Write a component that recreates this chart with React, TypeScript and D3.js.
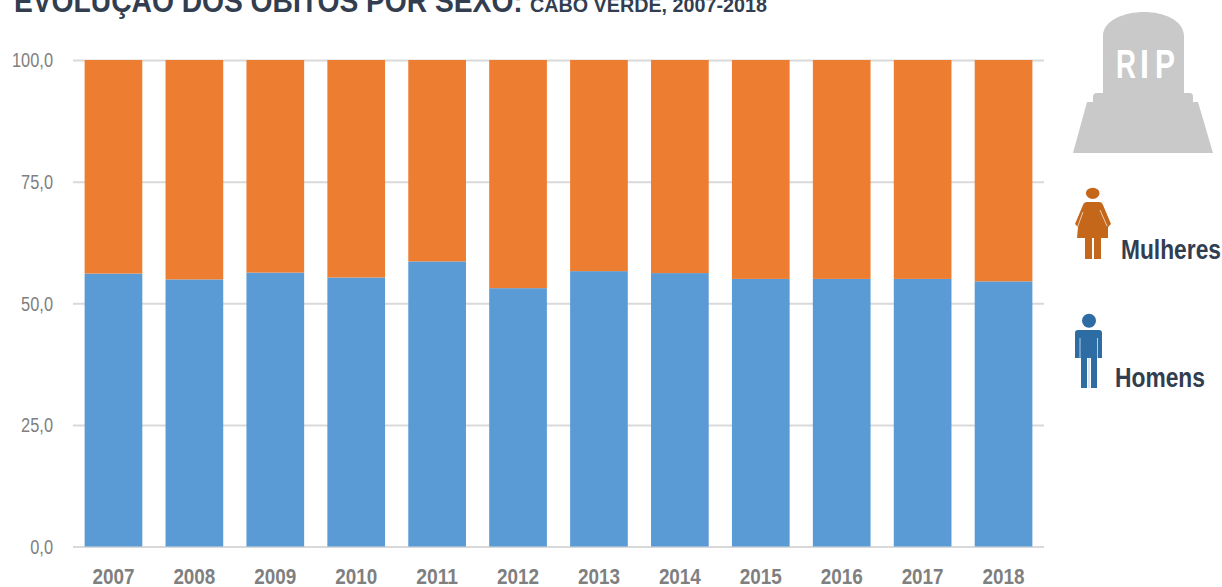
import React, { useEffect, useRef } from "react";
import * as d3 from "d3";

const years = ["2007", "2008", "2009", "2010", "2011", "2012", "2013", "2014", "2015", "2016", "2017", "2018"];
const homens = [56.1, 54.9, 56.3, 55.3, 58.6, 53.1, 56.6, 56.2, 55.0, 55.0, 55.0, 54.5];
const mulheres = homens.map((v) => 100 - v);
const yTicks = [0, 25, 50, 75, 100];

const width = 1222;
const height = 587;
const fontFamily = "'Liberation Sans', Arial, sans-serif";

const App = () => {
  const svgRef = useRef<SVGSVGElement>(null);

  useEffect(() => {
    const svg = d3.select(svgRef.current);
    svg.selectAll("*").remove();

    const x = d3.scaleBand().domain(years).range([73, 1044]).paddingInner(0.287).paddingOuter(0.1435);
    const y = d3.scaleLinear().domain([0, 100]).range([546.5, 60]);

    // Gridlines
    const grid = svg
      .append("g")
      .attr("transform", "translate(73,0)")
      .call(d3.axisLeft(y).tickValues(yTicks).tickSize(-971).tickFormat(() => ""));
    grid.select(".domain").remove();
    grid.selectAll("line").attr("stroke", "#d9d9d9").attr("stroke-width", 2);

    // Stacked bars
    const rows = years.map((year, i) => ({ year, homens: homens[i], mulheres: mulheres[i] }));
    const stack = d3.stack<any>().keys(["homens", "mulheres"])(rows);
    const colors = { homens: "#5b9bd5", mulheres: "#ed7d31" };

    svg
      .append("g")
      .selectAll("g")
      .data(stack)
      .join("g")
      .attr("fill", (d) => colors[d.key])
      .selectAll("rect")
      .data((d) => d)
      .join("rect")
      .attr("x", (d) => x(d.data.year))
      .attr("y", (d) => y(d[1]))
      .attr("width", x.bandwidth())
      .attr("height", (d) => y(d[0]) - y(d[1]));

    // Y axis labels
    const yAxis = svg
      .append("g")
      .attr("transform", "translate(53,0)")
      .call(
        d3
          .axisLeft(y)
          .tickValues(yTicks)
          .tickSize(0)
          .tickPadding(0)
          .tickFormat((d) => d3.format(".1f")(d).replace(".", ","))
      );
    yAxis.select(".domain").remove();
    yAxis
      .selectAll("text")
      .attr("fill", "#7f7f7f")
      .attr("dy", "0.33em")
      .style("font-family", fontFamily)
      .style("font-size", "21px")
      .attr("transform", "scale(0.78,1)");

    // X axis labels
    const xAxis = svg
      .append("g")
      .attr("transform", "translate(0,546.5)")
      .call(d3.axisBottom(x).tickSize(0).tickPadding(0));
    xAxis.select(".domain").remove();
    xAxis
      .selectAll("text")
      .attr("fill", "#7f7f7f")
      .attr("y", 37)
      .attr("dy", 0)
      .attr("textLength", 42)
      .attr("lengthAdjust", "spacingAndGlyphs")
      .style("font-family", fontFamily)
      .style("font-size", "22px")
      .style("font-weight", "bold");

    // Bold text squeezed to the width it has in the picture
    const label = (text: string, lx: number, ly: number, size: number, len: number, fill = "#323e50") => {
      const t = svg
        .append("text")
        .attr("fill", fill)
        .style("font-family", fontFamily)
        .style("font-size", `${size}px`)
        .style("font-weight", "bold")
        .text(text);
      const natural = (t.node() as SVGTextElement).getComputedTextLength();
      t.attr("transform", `translate(${lx},${ly}) scale(${len / natural},1)`);
      return t;
    };

    label("EVOLUÇÃO DOS ÓBITOS POR SEXO:", 14, 12, 31, 509);
    label("CABO VERDE, 2007-2018", 530, 12, 20, 237);
    label("Mulheres", 1121, 259, 27, 100);
    label("Homens", 1115, 387, 27, 90);

    // Tombstone
    const stone = svg.append("g").attr("fill", "#c9c9c9");
    stone
      .append("path")
      .attr(
        "d",
        "M1103,93 L1103,36 C1103,20 1125,12 1144,12 C1163,12 1184,20 1184,36 L1184,93 L1190,93 Q1193,93 1193,97 L1193,102 L1198,102 L1213,153 L1073,153 L1087,102 L1093,102 L1093,97 Q1093,93 1097,93 Z"
      );
    label("R", 1116, 78, 41, 20, "#ffffff");
    label("I", 1140, 78, 41, 9, "#ffffff");
    label("P", 1155, 78, 41, 20, "#ffffff");

    // Woman icon
    const woman = svg.append("g").attr("fill", "#c5671b");
    woman.append("ellipse").attr("cx", 1092.7).attr("cy", 193.3).attr("rx", 6.8).attr("ry", 5.6);
    woman
      .append("path")
      .attr(
        "d",
        "M1087,202 L1099,202 Q1102,202 1103,205 L1111,224 L1108,227 L1108,238 L1101,238 L1101,259 L1094,259 L1094,238 L1092,238 L1092,259 L1085,259 L1085,238 L1077,238 L1078,227 L1075,224 L1083,205 Q1084,202 1087,202 Z"
      );
    woman
      .append("path")
      .attr("d", "M1083,212 L1077.5,227 M1100,210 L1107,226")
      .attr("fill", "none")
      .attr("stroke", "#eccdb2")
      .attr("stroke-width", 1);

    // Man icon
    const man = svg.append("g").attr("fill", "#2e6da4");
    man.append("circle").attr("cx", 1089).attr("cy", 320.7).attr("r", 7);
    man
      .append("path")
      .attr(
        "d",
        "M1078,330 L1099,330 Q1102,330 1102,333 L1102,358 L1097,358 L1097,388 L1091,388 L1091,358 L1087,358 L1087,388 L1081,388 L1081,358 L1075,358 L1075,333 Q1075,330 1078,330 Z"
      );
    man
      .append("path")
      .attr("d", "M1080,338 L1080,358 M1097.5,338 L1097.5,358 M1089,358 L1089,388")
      .attr("fill", "none")
      .attr("stroke", "#b5cfe6")
      .attr("stroke-width", 1);
  }, []);

  return (
    <svg
      ref={svgRef}
      width={width}
      height={height}
      viewBox={`0 0 ${width} ${height}`}
      style={{ position: "fixed", left: 0, top: 0, background: "#ffffff" }}
    />
  );
};

export default App;
